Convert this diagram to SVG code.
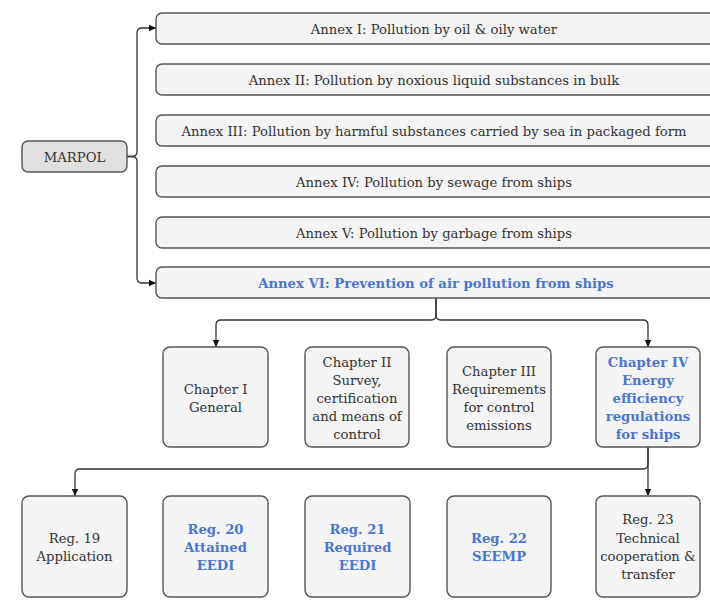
<svg xmlns="http://www.w3.org/2000/svg" width="710" height="613" viewBox="0 0 710 613">
<style>
.box{fill:#f4f4f4;stroke:#555;stroke-width:1.4}
.root{fill:#e0e0e0;stroke:#555;stroke-width:1.4}
text{font-family:'DejaVu Serif',serif;font-size:13.2px;fill:#333;text-anchor:middle}
.hl{fill:#4a76d0;font-weight:bold}
.edge{fill:none;stroke:#333;stroke-width:1.3}
</style>
<defs>
<marker id="arr" markerWidth="8" markerHeight="8" refX="7" refY="4" orient="auto" markerUnits="userSpaceOnUse">
<path d="M0,0.8 L7,4 L0,7.2 Z" fill="#111"/>
</marker>
</defs>
<rect width="710" height="613" fill="#fff"/>
<g id="connectors">
<path class="edge" d="M127,156.5 H132 Q137,156.5 137,151.5 V33 Q137,28 142,28 H156" marker-end="url(#arr)"/>
<path class="edge" d="M127,156.5 H132 Q137,156.5 137,161.5 V278 Q137,283 142,283 H156" marker-end="url(#arr)"/>
<path class="edge" d="M436,298 V315 Q436,320 431,320 H221 Q216,320 216,325 V347" marker-end="url(#arr)"/>
<path class="edge" d="M436,298 V315 Q436,320 441,320 H643 Q648,320 648,325 V347" marker-end="url(#arr)"/>
<path class="edge" d="M648,447 V464 Q648,469 643,469 H80 Q75,469 75,474 V496" marker-end="url(#arr)"/>
<path class="edge" d="M648,447 V496" marker-end="url(#arr)"/>
</g>
<g id="marpol"><rect class="root" x="22" y="141" width="105" height="31" rx="6"/><text x="74.5" y="161.5">MARPOL</text></g>
<g id="annex1"><rect class="box" x="156" y="13" width="560" height="31" rx="6"/><text x="434" y="33.5">Annex I: Pollution by oil &amp; oily water</text></g>
<g id="annex2"><rect class="box" x="156" y="64" width="560" height="31" rx="6"/><text x="434" y="84.5">Annex II: Pollution by noxious liquid substances in bulk</text></g>
<g id="annex3"><rect class="box" x="156" y="115" width="560" height="31" rx="6"/><text x="434" y="135.5">Annex III: Pollution by harmful substances carried by sea in packaged form</text></g>
<g id="annex4"><rect class="box" x="156" y="166" width="560" height="31" rx="6"/><text x="434" y="186.5">Annex IV: Pollution by sewage from ships</text></g>
<g id="annex5"><rect class="box" x="156" y="217" width="560" height="31" rx="6"/><text x="434" y="237.5">Annex V: Pollution by garbage from ships</text></g>
<g id="annex6"><rect class="box" x="156" y="267" width="560" height="31" rx="6"/><text class="hl" x="436" y="288">Annex VI: Prevention of air pollution from ships</text></g>
<g id="ch1"><rect class="box" x="163" y="347" width="105" height="100" rx="7"/><text x="215.5" y="394">Chapter I</text><text x="215.5" y="412">General</text></g>
<g id="ch2"><rect class="box" x="305" y="347" width="104" height="100" rx="7"/><text x="357" y="367">Chapter II</text><text x="357" y="385">Survey,</text><text x="357" y="403">certification</text><text x="357" y="421">and means of</text><text x="357" y="439">control</text></g>
<g id="ch3"><rect class="box" x="447" y="347" width="104" height="100" rx="7"/><text x="499" y="376">Chapter III</text><text x="499" y="394">Requirements</text><text x="499" y="412">for control</text><text x="499" y="430">emissions</text></g>
<g id="ch4"><rect class="box" x="596" y="347" width="104" height="100" rx="7"/><text class="hl" x="648" y="367">Chapter IV</text><text class="hl" x="648" y="385">Energy</text><text class="hl" x="648" y="403">efficiency</text><text class="hl" x="648" y="421">regulations</text><text class="hl" x="648" y="439">for ships</text></g>
<g id="reg19"><rect class="box" x="22" y="496" width="105" height="101" rx="7"/><text x="74.5" y="543">Reg. 19</text><text x="74.5" y="561">Application</text></g>
<g id="reg20"><rect class="box" x="163" y="496" width="105" height="101" rx="7"/><text class="hl" x="215.5" y="534">Reg. 20</text><text class="hl" x="215.5" y="552">Attained</text><text class="hl" x="215.5" y="570">EEDI</text></g>
<g id="reg21"><rect class="box" x="305" y="496" width="105" height="101" rx="7"/><text class="hl" x="357.5" y="534">Reg. 21</text><text class="hl" x="357.5" y="552">Required</text><text class="hl" x="357.5" y="570">EEDI</text></g>
<g id="reg22"><rect class="box" x="447" y="496" width="104" height="101" rx="7"/><text class="hl" x="499" y="543">Reg. 22</text><text class="hl" x="499" y="561">SEEMP</text></g>
<g id="reg23"><rect class="box" x="596" y="496" width="104" height="101" rx="7"/><text x="648" y="524">Reg. 23</text><text x="648" y="543">Technical</text><text x="648" y="561">cooperation &amp;</text><text x="648" y="579">transfer</text></g>
</svg>
